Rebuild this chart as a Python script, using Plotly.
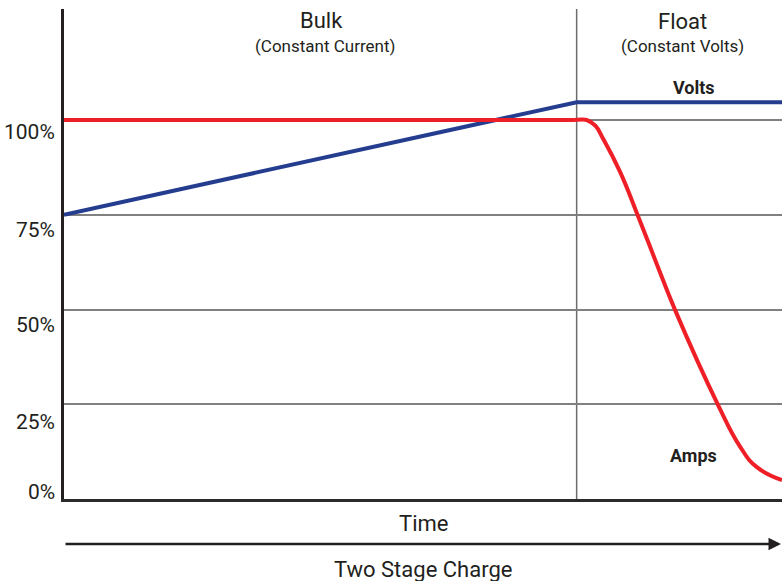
import plotly.graph_objects as go

# ---- data ----
volts_time = [0, 71.4, 100]
volts_pct = [75, 104.7, 104.7]

amps_time = [0, 71.0, 72.8, 74.0, 75.1, 77.4, 79.9, 82.5, 85.1, 91.1, 94.2, 96.5, 100]
amps_pct = [100, 100, 100, 98.5, 95.0, 86.5, 74.9, 62.3, 49.9, 24.8, 13.7, 8.4, 5.0]

stage_switch_time = 71.4
tick_vals = [0, 25, 50, 75, 100]
tick_text = ["0%", "25%", "50%", "75%", "100%"]
tick_label_shift = [7, -18, -15, -15, -12]   # label offset (px) from gridline

FONT = "Roboto, Liberation Sans, Arial, sans-serif"
INK = "#231f20"

fig = go.Figure()
fig.add_trace(go.Scatter(x=volts_time, y=volts_pct, mode="lines",
                         line=dict(color="#243d8f", width=4), name="Volts"))
fig.add_trace(go.Scatter(x=amps_time, y=amps_pct, mode="lines",
                         line=dict(color="#ee1f26", width=4, shape="spline", smoothing=1.3),
                         name="Amps"))

fig.add_shape(type="line", x0=stage_switch_time, x1=stage_switch_time, y0=0, y1=1,
              xref="x", yref="paper", line=dict(color="#6d6d6d", width=1.5), layer="below")


def label(x, y, text, size, xref="paper", yref="paper", **kw):
    d = dict(x=x, y=y, xref=xref, yref=yref, text=text, showarrow=False,
             xanchor="center", yanchor="middle",
             font=dict(size=size, color=INK, family=FONT))
    d.update(kw)
    return d


ann = []
for v, t, s in zip(tick_vals, tick_text, tick_label_shift):
    ann.append(label(0, v, t, 21, yref="y", xanchor="right", xshift=-7, yshift=s))

ann += [
    label(0.358, 0.976, "Bulk", 22),
    label(0.3635, 0.925, "(Constant Current)", 17),
    label(0.861, 0.975, "Float", 22),
    label(0.861, 0.924, "(Constant Volts)", 17),
    label(87.7, 108.7, "<b>Volts</b>", 18, xref="x", yref="y"),
    label(87.7, 11.6, "<b>Amps</b>", 18, xref="x", yref="y"),
    label(0.501, -0.049, "Time", 22),
    label(0.50, -0.143, "Two Stage Charge", 22),
    dict(x=1, y=-0.092, xref="paper", yref="paper", ax=-718, ay=0,
         axref="pixel", ayref="pixel", text="", showarrow=True, arrowhead=2,
         arrowsize=1, arrowwidth=2.5, arrowcolor=INK, standoff=0),
]

fig.update_layout(
    width=782, height=581,
    margin=dict(l=64, r=0, t=9, b=82),
    paper_bgcolor="white", plot_bgcolor="white",
    showlegend=False,
    annotations=ann,
    font=dict(family=FONT, color=INK),
    xaxis=dict(range=[0, 100], showgrid=False, zeroline=False, showticklabels=False,
               ticks="", showline=True, linecolor="#2b2b2b", linewidth=2.5,
               fixedrange=True),
    yaxis=dict(range=[0, 129.3], tickvals=tick_vals, showticklabels=False, ticks="",
               showgrid=True, gridcolor="#808080", gridwidth=1.5, zeroline=False,
               showline=True, linecolor=INK, linewidth=2.5, fixedrange=True),
)

fig.write_html(
    "out.html",
    config={"displayModeBar": False},
    post_script="document.body.style.margin='0';document.body.style.overflow='hidden';",
)
